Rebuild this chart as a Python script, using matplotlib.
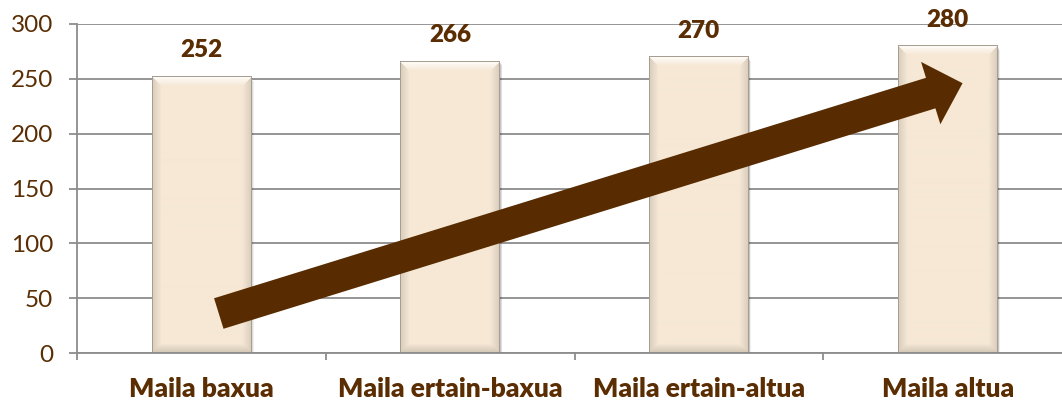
import numpy as np
import matplotlib
matplotlib.use("Agg")
import matplotlib.pyplot as plt
from matplotlib.patches import FancyArrowPatch, ArrowStyle, Rectangle

# ── Data ──
categories = ["Maila baxua", "Maila ertain-baxua", "Maila ertain-altua", "Maila altua"]
values = [252, 266, 270, 280]
yticks = [0, 50, 100, 150, 200, 250, 300]

# trend arrow, in (category index, value) units
arrow_tail = (0.07, 36)
arrow_tip = (3.06, 246)

C = {"text": "#5a2d02", "arrow": "#582c00", "grid": "#8c8c8c",
     "bar": (246, 232, 213)}

plt.rcParams["font.family"] = ["Lato", "DejaVu Sans"]

W, H, DPI = 1062, 401, 100
fig = plt.figure(figsize=(W / DPI, H / DPI), dpi=DPI, facecolor="white")
ax = fig.add_axes([77 / W, 48 / H, (1072 - 77) / W, (353 - 24) / H])

x = np.arange(len(categories))
bw = 0.4
px_per_x = (1072 - 77) / 4.0
px_per_y = (353 - 24) / 300.0


def bevel_img(h, w, b=9):
    base = np.array(C["bar"], float) / 255
    yy, xx = np.mgrid[0:h, 0:w]
    d = np.stack([yy, h - 1 - yy, xx, w - 1 - xx])
    near = d.argmin(0)
    dmin = d.min(0)
    img = np.tile(base, (h, w, 1))
    f = np.clip(1 - dmin / b, 0, 1)[..., None]
    white = np.ones(3)
    dark = base * 0.78
    top = img * (1 - 0.9 * f) + white * 0.9 * f
    side = img * (1 - 0.55 * f) + dark * 0.55 * f
    bot = img * (1 - 0.65 * f) + dark * 0.65 * f
    out = np.where((near == 0)[..., None], top, np.where((near == 1)[..., None], bot, side))
    edge = (dmin == 0)[..., None]
    out = np.where(edge, base * 0.68, out)
    return out


for xi, v in zip(x, values):
    # soft shadow
    for k, a in [(4, 0.06), (3, 0.08), (2, 0.10)]:
        ax.add_patch(Rectangle((xi - bw / 2 + k * 0.6 / px_per_x, -k / px_per_y), bw, v,
                               facecolor="#000000", alpha=a, edgecolor="none", zorder=1.5))
    h = int(round(v * px_per_y))
    w = int(round(bw * px_per_x))
    ax.imshow(bevel_img(h, w), extent=(xi - bw / 2, xi + bw / 2, 0, v),
              aspect="auto", interpolation="bilinear", zorder=2)
    ax.annotate(str(v), (xi, v), xytext=(0, 11), textcoords="offset points",
                ha="center", va="bottom", fontsize=17.5, fontweight="heavy",
                color=C["text"], annotation_clip=False)

arrow = FancyArrowPatch(arrow_tail, arrow_tip,
                        arrowstyle=ArrowStyle.Simple(head_length=24, head_width=47, tail_width=23),
                        mutation_scale=1, shrinkA=0, shrinkB=0,
                        facecolor=C["arrow"], edgecolor="none", zorder=4)
ax.add_patch(arrow)

ax.set_xlim(-0.5, 3.5)
ax.set_ylim(0, 300)
ax.set_yticks(yticks)
ax.yaxis.grid(True, color=C["grid"], linewidth=1.3)
ax.set_axisbelow(True)
for s in ["top", "right"]:
    ax.spines[s].set_visible(False)
for s in ["left", "bottom"]:
    ax.spines[s].set_color(C["grid"])
    ax.spines[s].set_linewidth(1.3)
ax.tick_params(axis="y", direction="out", length=6, width=1.3, color=C["grid"],
               labelcolor=C["text"], labelsize=17.5, pad=11)
ax.set_xticks(x)
ax.set_xticklabels(categories, fontsize=19, fontweight="heavy", color=C["text"])
ax.tick_params(axis="x", which="major", length=0, pad=17)
ax.set_xticks(np.arange(-0.5, 4.0, 1.0), minor=True)
ax.tick_params(axis="x", which="minor", direction="out", length=5, width=1.3, color=C["grid"])

fig.savefig("out.png", dpi=DPI, facecolor="white")
